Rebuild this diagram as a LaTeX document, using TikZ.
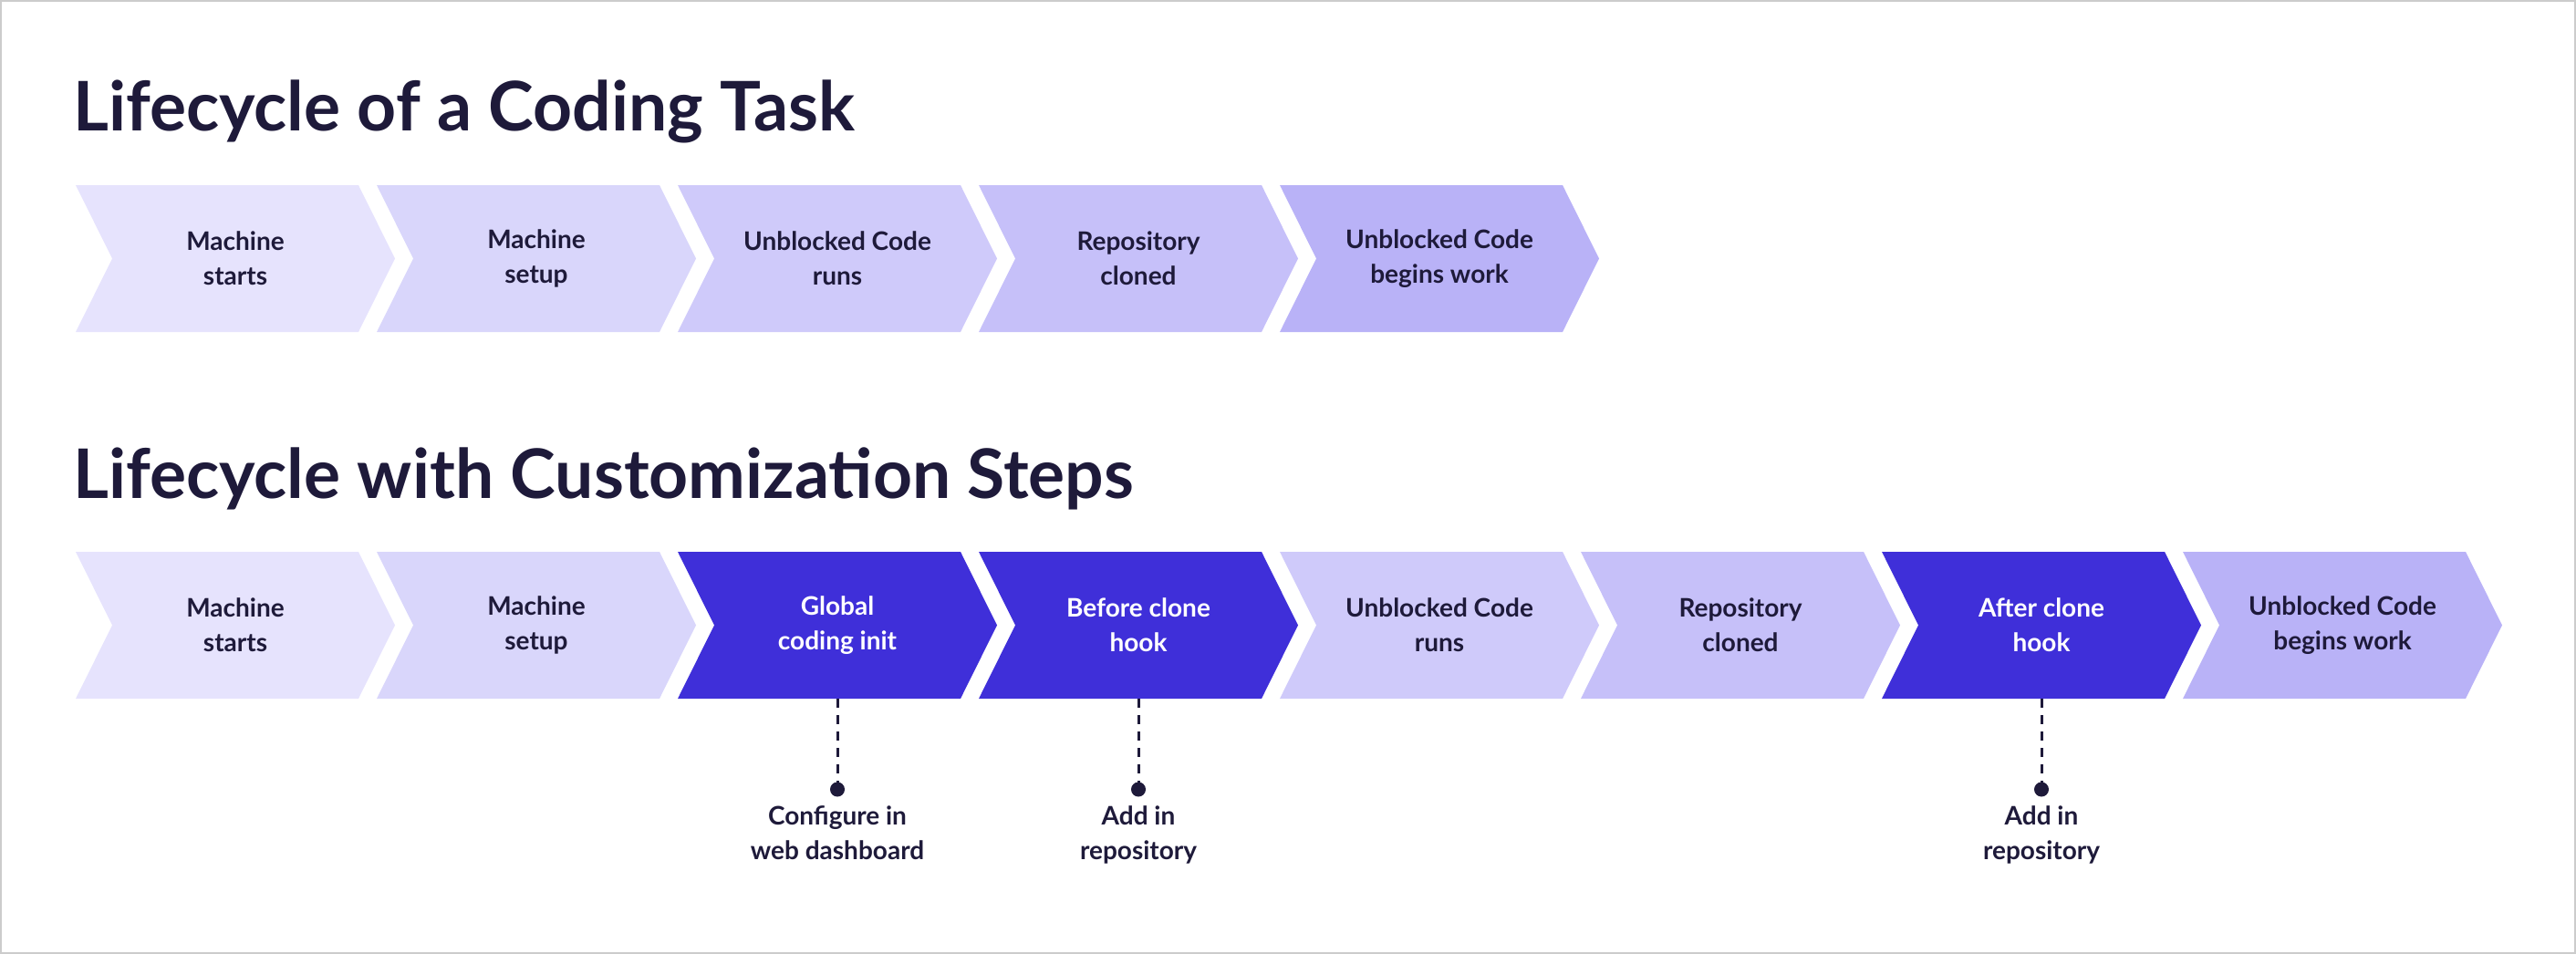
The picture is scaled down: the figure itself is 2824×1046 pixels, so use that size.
\documentclass[tikz,border=0pt]{standalone}
\usepackage{fontspec}
\setmainfont{Lato}
\definecolor{ink}{HTML}{1E1A3A}
\definecolor{cA}{HTML}{E6E3FD}
\definecolor{cB}{HTML}{D9D6FB}
\definecolor{cC}{HTML}{CFCAFA}
\definecolor{cD}{HTML}{C6C0F9}
\definecolor{cE}{HTML}{B9B2F7}
\definecolor{cX}{HTML}{3F2FD9}
\newcommand{\chev}[6]{%
  \fill[#4] (#2,#3-80.5) -- ++(310,0) -- ++(40,80.5) -- ++(-40,80.5) -- ++(-310,0) -- ++(40,-80.5) -- cycle;
  \node[lbl,text=#5] (#1) at (#2+175,#3) {#6};}
\begin{document}
\begin{tikzpicture}[x=1pt,y=-1pt,
  lbl/.style={align=center,font=\fontsize{28}{38}\selectfont\bfseries,inner sep=0pt},
  ttl/.style={anchor=base west,font=\fontsize{75}{80}\selectfont\bfseries,text=ink,inner sep=0pt},
  note/.style={anchor=north,align=center,font=\fontsize{28}{38}\selectfont\bfseries,text=ink,inner sep=0pt},
  dline/.style={ink,line width=3pt,dash pattern=on 10pt off 8pt}]
\useasboundingbox (0,0) rectangle (2824,1046);
\draw[gray!40,line width=2pt] (1,1) rectangle (2823,1045);
\node[ttl] (t1) at (80,144) {Lifecycle of a Coding Task};
\node[ttl] (t2) at (80,546) {Lifecycle with Customization Steps};
\chev{a1}{83}{283.5}{cA}{ink}{Machine\\starts}
\chev{a2}{413}{283.5}{cB}{ink}{Machine\\setup}
\chev{a3}{743}{283.5}{cC}{ink}{Unblocked Code\\runs}
\chev{a4}{1073}{283.5}{cD}{ink}{Repository\\cloned}
\chev{a5}{1403}{283.5}{cE}{ink}{Unblocked Code\\begins work}
\chev{b1}{83}{685.5}{cA}{ink}{Machine\\starts}
\chev{b2}{413}{685.5}{cB}{ink}{Machine\\setup}
\chev{b3}{743}{685.5}{cX}{white}{Global\\coding init}
\chev{b4}{1073}{685.5}{cX}{white}{Before clone\\hook}
\chev{b5}{1403}{685.5}{cC}{ink}{Unblocked Code\\runs}
\chev{b6}{1733}{685.5}{cD}{ink}{Repository\\cloned}
\chev{b7}{2063}{685.5}{cX}{white}{After clone\\hook}
\chev{b8}{2393}{685.5}{cE}{ink}{Unblocked Code\\begins work}
\foreach \n/\t in {b3/{Configure in\\web dashboard},b4/{Add in\\repository},b7/{Add in\\repository}}{
  \coordinate (\n top) at ([yshift=-80.5]\n.center);
  \coordinate (\n dot) at ([yshift=-180]\n.center);
  \draw[dline] (\n top) -- (\n dot);
  \fill[ink] (\n dot) circle (8);
  \node[note] (\n note) at ([yshift=-198]\n.center) {\t};
}
\end{tikzpicture}
\end{document}
